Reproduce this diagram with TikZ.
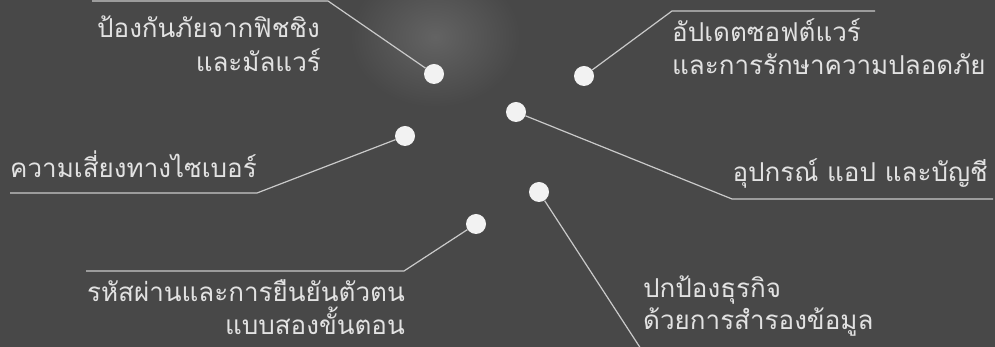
\documentclass[tikz,border=0pt]{standalone}
\usepackage{fontspec}
\newfontfamily\thaifont[Script=Thai]{Loma}
\definecolor{bg}{HTML}{484848}
\definecolor{glow}{HTML}{636363}
\definecolor{ink}{HTML}{E2E2E2}
\definecolor{wire}{HTML}{CACACA}
\definecolor{dotc}{HTML}{F2F2F2}
\begin{document}
\begin{tikzpicture}[x=1pt,y=1pt,
  lbl/.style={text=ink,font=\thaifont\fontsize{26}{30}\selectfont,inner sep=0pt},
  pin/.style={circle,fill=dotc,minimum size=20pt,inner sep=0pt},
  wirel/.style={draw=wire,line width=1.2pt}]
\fill[bg] (0,0) rectangle (995,347);
\useasboundingbox (0,0) rectangle (995,347);
\clip (0,0) rectangle (995,347);
\shade[inner color=glow,outer color=bg] (435,310) ellipse (85 and 70);

% dots
\node[pin] (dA) at (434,273) {};
\node[pin] (dC) at (584,271) {};
\node[pin] (dD) at (516,235) {};
\node[pin] (dB) at (405,211) {};
\node[pin] (dE) at (476,123) {};
\node[pin] (dF) at (539,155) {};

% bends and ends
\coordinate (bA) at (328,346); \coordinate (eA) at (92,346);
\coordinate (bC) at (672,336); \coordinate (eC) at (875,336);
\coordinate (bB) at (257,154); \coordinate (eB) at (10,154);
\coordinate (bD) at (732,148); \coordinate (eD) at (993,148);
\coordinate (bE) at (404,76);  \coordinate (eE) at (86,76);
\coordinate (eF) at (641,-2);

\draw[wirel] (dA) -- (bA) -- (eA);
\draw[wirel] (dC) -- (bC) -- (eC);
\draw[wirel] (dB) -- (bB) -- (eB);
\draw[wirel] (dD) -- (bD) -- (eD);
\draw[wirel] (dE) -- (bE) -- (eE);
\draw[wirel] (dF) -- (eF);

% labels
\node[lbl,anchor=base east] (tA1) at (320,309) {ป้องกันภัยจากฟิชชิง};
\node[lbl,anchor=base east] (tA2) at (321,275) {และมัลแวร์};
\node[lbl,anchor=base west] (tC1) at (672,305) {อัปเดตซอฟต์แวร์};
\node[lbl,anchor=base west] (tC2) at (672,272) {และการรักษาความปลอดภัย};
\node[lbl,anchor=base west] (tB) at (10,169) {ความเสี่ยงทางไซเบอร์};
\node[lbl,anchor=base east] (tD) at (988,165) {อุปกรณ์ แอป และบัญชี};
\node[lbl,anchor=base east] (tE1) at (405,45) {รหัสผ่านและการยืนยันตัวตน};
\node[lbl,anchor=base east] (tE2) at (405,12) {แบบสองขั้นตอน};
\node[lbl,anchor=base west] (tF1) at (643,49) {ปกป้องธุรกิจ};
\node[lbl,anchor=base west] (tF2) at (643,17) {ด้วยการสำรองข้อมูล};
\end{tikzpicture}
\end{document}
